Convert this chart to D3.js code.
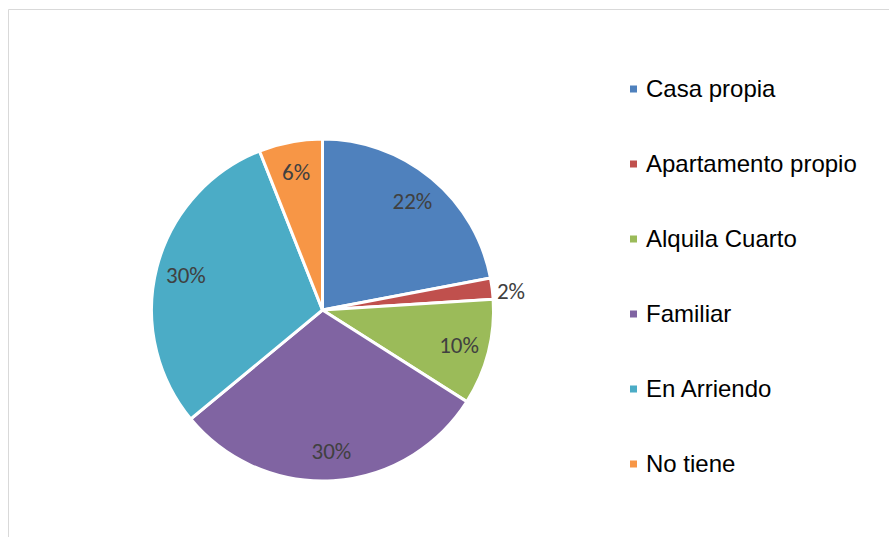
<!DOCTYPE html>
<html>
<head>
<meta charset="utf-8">
<script src="https://cdn.jsdelivr.net/npm/d3@7"></script>
<style>
  html, body { margin: 0; padding: 0; background: #fff; }
  svg { display: block; }
</style>
</head>
<body>
<svg id="chart" width="889" height="537"></svg>
<script>
const categories = ["Casa propia", "Apartamento propio", "Alquila Cuarto", "Familiar", "En Arriendo", "No tiene"];
const values = [22, 2, 10, 30, 30, 6];
const labels = ["22%", "2%", "10%", "30%", "30%", "6%"];
const colors = ["#4F81BD", "#C0504D", "#9BBB59", "#8064A2", "#4BACC6", "#F79646"];

const svg = d3.select("#chart");
const W = 889, H = 537;

// frame (top and left edges visible)
svg.append("line").attr("x1", 8.5).attr("y1", 9.5).attr("x2", W).attr("y2", 9.5)
  .attr("stroke", "#d9d9d9").attr("stroke-width", 1);
svg.append("line").attr("x1", 8.5).attr("y1", 9.5).attr("x2", 8.5).attr("y2", H)
  .attr("stroke", "#d9d9d9").attr("stroke-width", 1);

const cx = 322.5, cy = 310, R = 171;
const g = svg.append("g").attr("transform", `translate(${cx},${cy})`);

const pie = d3.pie().sort(null).value(d => d.v);
const data = values.map((v, i) => ({ v, i }));
const arcs = pie(data);
const arc = d3.arc().innerRadius(0).outerRadius(R);

g.selectAll("path.slice").data(arcs).join("path")
  .attr("class", "slice")
  .attr("d", arc)
  .attr("fill", d => colors[d.data.i])
  .attr("stroke", "#fff")
  .attr("stroke-width", 3)
  .attr("stroke-linejoin", "miter");

const inLabel = d3.arc().innerRadius(141).outerRadius(141);
const outLabel = d3.arc().innerRadius(190).outerRadius(190);

g.selectAll("text.lbl").data(arcs).join("text")
  .attr("class", "lbl")
  .attr("transform", d => {
    const c = (d.data.v < 5 ? outLabel : inLabel).centroid(d);
    const dy = d.data.v < 5 ? 5 : 0;
    return `translate(${c[0]},${c[1] + dy})`;
  })
  .attr("text-anchor", "middle")
  .attr("dy", "0.35em")
  .attr("font-family", "Carlito, Calibri, Lato, 'Open Sans', sans-serif")
  .attr("font-size", 23)
  .attr("fill", "#404040")
  .text(d => labels[d.data.i]);

// legend
const legendY = d3.scalePoint().domain(categories).range([89, 464]);
const lg = svg.append("g");
const items = lg.selectAll("g").data(categories).join("g")
  .attr("transform", d => `translate(630,${legendY(d)})`);
items.append("rect").attr("x", 0).attr("y", -3.5).attr("width", 7).attr("height", 7)
  .attr("fill", (d, i) => colors[i]);
items.append("text").attr("x", 16).attr("y", 8)
  .attr("font-family", "'Liberation Sans', Arial, sans-serif")
  .attr("font-size", 24)
  .attr("fill", "#000")
  .text(d => d);
</script>
</body>
</html>
